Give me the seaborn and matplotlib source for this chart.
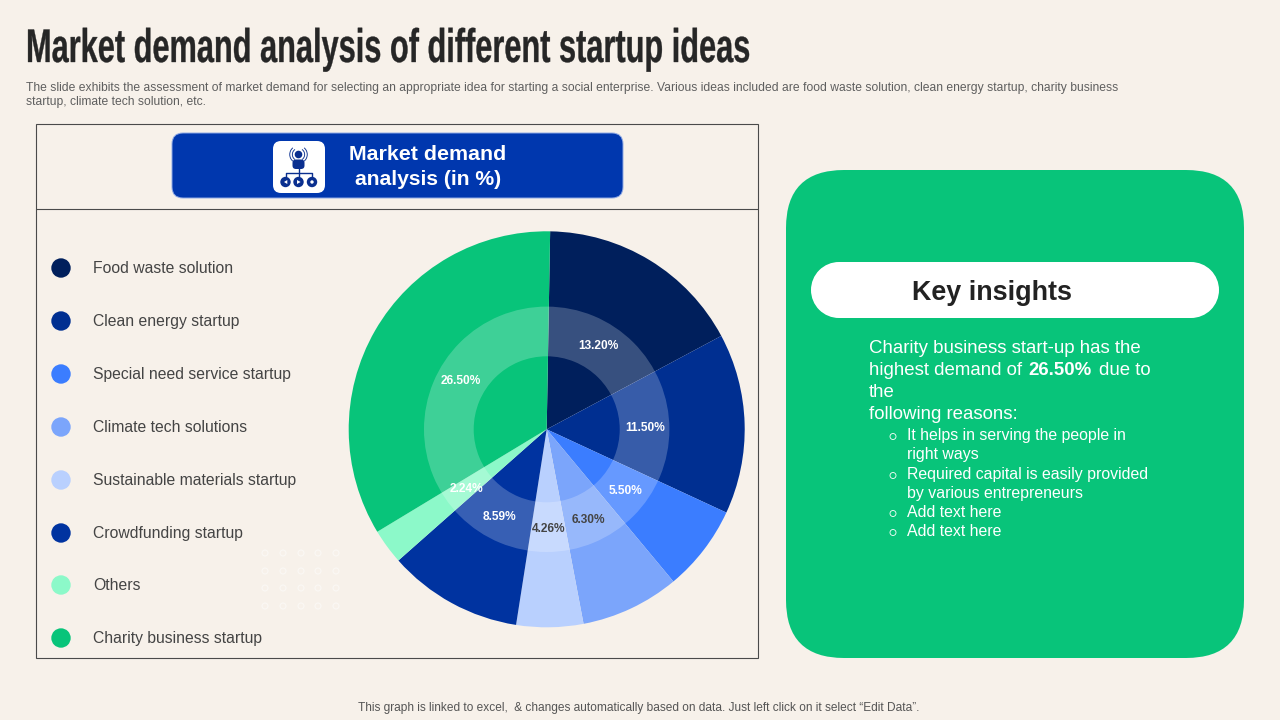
import matplotlib
matplotlib.use("Agg")
import matplotlib.pyplot as plt
from matplotlib.patches import FancyBboxPatch, Rectangle, Circle, Wedge, Polygon
from matplotlib.patheffects import AbstractPathEffect
from matplotlib.transforms import Affine2D
import seaborn as sns
import pandas as pd

categories = ["Food waste solution", "Clean energy startup", "Special need service startup",
              "Climate tech solutions", "Sustainable materials startup", "Crowdfunding startup",
              "Others", "Charity business startup"]
demand = [13.20, 11.50, 5.50, 6.30, 4.26, 8.59, 2.24, 26.50]
pct_labels = ["13.20%", "11.50%", "5.50%", "6.30%", "4.26%", "8.59%", "2.24%", "26.50%"]
colors = ["#001F5C", "#002F91", "#3B7DFF", "#7BA5FB", "#B9D0FE", "#0033A0", "#8CF9C9", "#08C47A"]
label_colors = ["white", "white", "white", "#444444", "#444444", "white", "white", "white"]

title = "Market demand analysis of different startup ideas"
subtitle = ["The slide exhibits the assessment of market demand for selecting an appropriate idea for starting a social enterprise. Various ideas included are food waste solution, clean energy startup, charity business",
            "startup, climate tech solution, etc."]
footer = "This graph is linked to excel,  & changes automatically based on data. Just left click on it select \u201cEdit Data\u201d."
bullets = ["It helps in serving the people in", "right ways", "Required capital is easily provided",
           "by various entrepreneurs", "Add text here", "Add text here"]

BG = "#F7F1EA"
sns.set_theme(style="white", rc={"figure.facecolor": BG, "axes.facecolor": "none", "savefig.facecolor": BG})
plt.rcParams["font.family"] = ["Liberation Sans", "DejaVu Sans"]
palette = sns.color_palette(colors)
W, H = 1280, 720
fig = plt.figure(figsize=(12.8, 7.2), dpi=100)
bg = fig.add_axes([0, 0, 1, 1])
bg.set_xlim(0, W); bg.set_ylim(H, 0); bg.axis("off")


class Squeeze(AbstractPathEffect):
    """Draw real text narrower, as no condensed family is installed."""
    def __init__(self, sx, stroke=0.0):
        super().__init__()
        self.sx, self.stroke = sx, stroke

    def draw_path(self, renderer, gc, tpath, affine, rgbFace=None):
        g = renderer.new_gc()
        g.copy_properties(gc)
        g.set_linewidth(self.stroke)
        g.set_foreground(rgbFace)
        renderer.draw_path(g, tpath, Affine2D().scale(self.sx, 1) + affine, rgbFace)
        g.restore()


def rbox(x0, y0, x1, y1, r, **kw):
    bg.add_patch(FancyBboxPatch((x0 + r, y0 + r), x1 - x0 - 2 * r, y1 - y0 - 2 * r,
                                boxstyle=f"round,pad={r},rounding_size={r}", lw=kw.pop("lw", 0), **kw))

# title block
bg.text(26, 62, title, weight="bold", fontsize=34, color="#262626", va="baseline", ha="left",
        path_effects=[Squeeze(0.651, 0.25)])
bg.text(26, 87.5, subtitle[0], fontsize=8.73, color="#5f5f5f", va="center")
bg.text(26, 101.5, subtitle[1], fontsize=8.73, color="#5f5f5f", va="center")
bg.text(639, 707.5, footer, fontsize=8.54, color="#555555", va="center", ha="center")

# left frame
bg.add_patch(Rectangle((36.2, 124.2), 722, 534, fc="none", ec="#4a4a4a", lw=0.8))
bg.plot([36.2, 758.2], [209.2, 209.2], color="#4a4a4a", lw=0.8)

# banner
rbox(172, 133, 623, 198, 11, fc="#0037AE", ec="#8FA9E4", lw=0.7)
bg.text(427.5, 154, "Market demand", fontsize=15.4, weight="bold", color="white", ha="center", va="center")
bg.text(428, 179.8, "analysis (in %)", fontsize=15.2, weight="bold", color="white", ha="center", va="center")

# icon
rbox(273, 141, 325, 193, 8, fc="white")
ic = "#0A2F8F"
bg.add_patch(Circle((298.5, 154.5), 3.8, fc=ic, lw=0))
bg.add_patch(FancyBboxPatch((292.5, 159.5), 12, 9.5, boxstyle="round,pad=0,rounding_size=3.5", fc=ic, lw=0))
bg.add_patch(Wedge((298.5, 154.5), 6.6, 125, 235, width=0.9, fc=ic, lw=0))
bg.add_patch(Wedge((298.5, 154.5), 6.6, -55, 55, width=0.9, fc=ic, lw=0))
bg.add_patch(Wedge((298.5, 154.5), 9.2, 130, 230, width=0.9, fc=ic, lw=0))
bg.add_patch(Wedge((298.5, 154.5), 9.2, -50, 50, width=0.9, fc=ic, lw=0))
bg.plot([298.5, 298.5], [168, 177], color=ic, lw=1.0)
bg.plot([285.5, 285.5, 312, 312], [177, 173, 173, 177], color=ic, lw=1.0)
for cx in (285.5, 298.5, 312):
    bg.add_patch(Circle((cx, 182), 5.2, fc=ic, lw=0))
bg.add_patch(Polygon([(284, 182), (287.3, 180), (287.3, 184)], fc="white", lw=0))
bg.add_patch(Polygon([(300.6, 182), (297, 180), (297, 184)], fc="white", lw=0))
bg.add_patch(Circle((312, 182), 1.7, fc="white", lw=0))

# faint dot pattern
dots = pd.DataFrame([(x, y) for x in (265, 283, 301, 318, 336) for y in (553, 571, 588, 606)], columns=["x", "y"])
sns.scatterplot(data=dots, x="x", y="y", ax=bg, s=18, facecolor="none", edgecolor="#FFFFFF",
                linewidth=0.9, alpha=0.45, legend=False)

# legend
leg = pd.DataFrame({"cat": categories, "y": [268, 321, 374, 427, 480, 533, 585, 638]})
leg["x"] = 61
sns.scatterplot(data=leg, x="x", y="y", hue="cat", palette=palette, hue_order=categories, ax=bg,
                s=195, linewidth=0, legend=False)
for c, y in zip(categories, leg["y"]):
    bg.text(93, y + 0.8, c, fontsize=11.35, color="#444444", va="center")
bg.set_xlim(0, W); bg.set_ylim(H, 0); bg.set_xlabel(""); bg.set_ylabel("")

# pie
cx, cy, R = 546.7, 429.3, 198
pax = fig.add_axes([(cx - R) / W, 1 - (cy + R) / H, 2 * R / W, 2 * R / H])
wedges, texts = pax.pie(demand, colors=palette, startangle=89, counterclock=False, radius=1,
                        labels=pct_labels, labeldistance=99 / R, wedgeprops=dict(linewidth=0),
                        textprops=dict(fontsize=8.6, weight="bold"))
for t, c in zip(texts, label_colors):
    t.set_ha("center"); t.set_va("center"); t.set_color(c); t.set_zorder(5)
    px, py = t.get_position()
    t.set_position((px, py - 1.2 / R))
pax.add_patch(Wedge((0, 0), 122.7 / R, 0, 360, width=(122.7 - 73) / R, fc="white", alpha=0.22, lw=0, zorder=3))
pax.set_xlim(-1, 1); pax.set_ylim(-1, 1); pax.set_aspect("equal"); pax.axis("off")
for w in wedges:
    w.set_clip_on(False)

# insights panel
rbox(786, 170, 1244, 658, 58, fc="#08C47A")
bg.add_patch(Rectangle((839, 262), 352, 56, fc="white", lw=0))
bg.add_patch(Circle((839, 290), 28, fc="white", lw=0))
bg.add_patch(Circle((1191, 290), 28, fc="white", lw=0))
bg.text(992, 292.5, "Key insights", fontsize=19.4, weight="bold", color="#222222", ha="center", va="center")
TXT = dict(color="white", va="center", fontsize=13.4)
bg.text(869, 348.5, "Charity business start-up has the", **TXT)
bg.text(869, 370.5, "highest demand of", **TXT)
bg.text(1028, 370.5, "26.50%", weight="bold", **TXT)
bg.text(1099, 370.5, "due to", **TXT)
bg.text(869, 392.5, "the", **TXT)
bg.text(869, 414.5, "following reasons:", **TXT)
ys = [435.5, 454.5, 474.5, 493.5, 512.5, 531.5]
marks = [True, False, True, False, True, True]
for b, y, m in zip(bullets, ys, marks):
    bg.text(907, y, b, color="white", va="center", fontsize=11.4)
    if m:
        bg.add_patch(Circle((893, y + 1), 3.0, fc="none", ec="white", lw=0.6))

fig.savefig("out.png", dpi=100, facecolor=BG)
